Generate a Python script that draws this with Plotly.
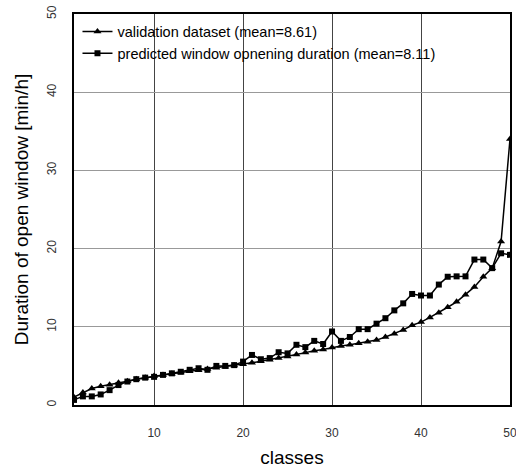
import plotly.graph_objects as go

classes = list(range(1, 51))

validation = [1.0, 1.6, 2.1, 2.4, 2.6, 2.85, 3.05, 3.3, 3.5, 3.7,
              3.85, 4.0, 4.15, 4.3, 4.45, 4.6, 4.75, 4.9, 5.05, 5.2,
              5.4, 5.6, 5.8, 6.0, 6.2, 6.45, 6.7, 6.95, 7.1, 7.35,
              7.55, 7.7, 7.9, 8.1, 8.3, 8.7, 9.1, 9.6, 10.2, 10.6,
              11.2, 11.8, 12.5, 13.2, 14.1, 15.1, 16.4, 17.5, 20.9, 34.0]

predicted = [0.65, 1.1, 1.1, 1.35, 1.9, 2.55, 3.0, 3.3, 3.5, 3.6,
             3.85, 4.05, 4.25, 4.5, 4.7, 4.5, 5.0, 5.0, 5.1, 5.55,
             6.4, 5.85, 6.0, 6.75, 6.6, 7.7, 7.4, 8.2, 7.8, 9.4,
             8.2, 8.7, 9.7, 9.7, 10.4, 11.1, 12.1, 13.0, 14.2, 14.0,
             14.0, 15.4, 16.4, 16.45, 16.45, 18.6, 18.6, 17.5, 19.4, 19.2]

x_ticks = [10, 20, 30, 40, 50]
y_ticks = [0, 10, 20, 30, 40, 50]

name_val = "validation dataset (mean=8.61)"
name_pred = "predicted window opnening duration (mean=8.11)"

fig = go.Figure()
fig.add_trace(go.Scatter(
    x=classes, y=validation, name=name_val, mode="lines+markers",
    line=dict(color="black", width=1.5),
    marker=dict(symbol="triangle-up", size=7, color="black"),
))
fig.add_trace(go.Scatter(
    x=classes, y=predicted, name=name_pred, mode="lines+markers",
    line=dict(color="black", width=1.5),
    marker=dict(symbol="square", size=6, color="black"),
))

# white area behind the legend, hiding the grid at the top of the plot
fig.add_shape(type="rect", xref="paper", yref="paper",
              x0=0, x1=1, y0=(405 - 78) / 391, y1=1,
              fillcolor="white", line=dict(width=0), layer="between")

fig.update_layout(
    width=516, height=468,
    margin=dict(l=74, r=6, t=14, b=63, autoexpand=False),
    paper_bgcolor="white", plot_bgcolor="white",
    font=dict(family="Arial, Liberation Sans, sans-serif", color="black"),
    showlegend=True,
    legend=dict(x=0.008, y=0.996, xanchor="left", yanchor="top",
                bgcolor="rgba(0,0,0,0)", borderwidth=0,
                font=dict(size=14.5, color="black"),
                tracegroupgap=0, itemwidth=30),
    xaxis=dict(range=[1, 50], tickvals=x_ticks, ticks="",
               showgrid=True, gridcolor="#444", gridwidth=1,
               showline=True, linecolor="black", linewidth=1.5, mirror=True,
               zeroline=False, ticklabelstandoff=16, ticklabeloverflow="allow",
               automargin=False,
               tickfont=dict(size=12, color="#333"),
               title=dict(text="classes", font=dict(size=19), standoff=13)),
    yaxis=dict(range=[0, 50], tickvals=y_ticks, ticks="", tickangle=-90,
               showgrid=True, gridcolor="#999", gridwidth=1,
               showline=True, linecolor="black", linewidth=1.5, mirror=True,
               zeroline=False, ticklabelstandoff=11, automargin=False,
               tickfont=dict(size=12, color="#333"),
               title=dict(text="Duration of open window [min/h]",
                          font=dict(size=19), standoff=12)),
)

fig.write_html(
    "out.html",
    config={"displayModeBar": False},
    post_script="document.body.style.margin='0';document.body.style.overflow='hidden';",
)
